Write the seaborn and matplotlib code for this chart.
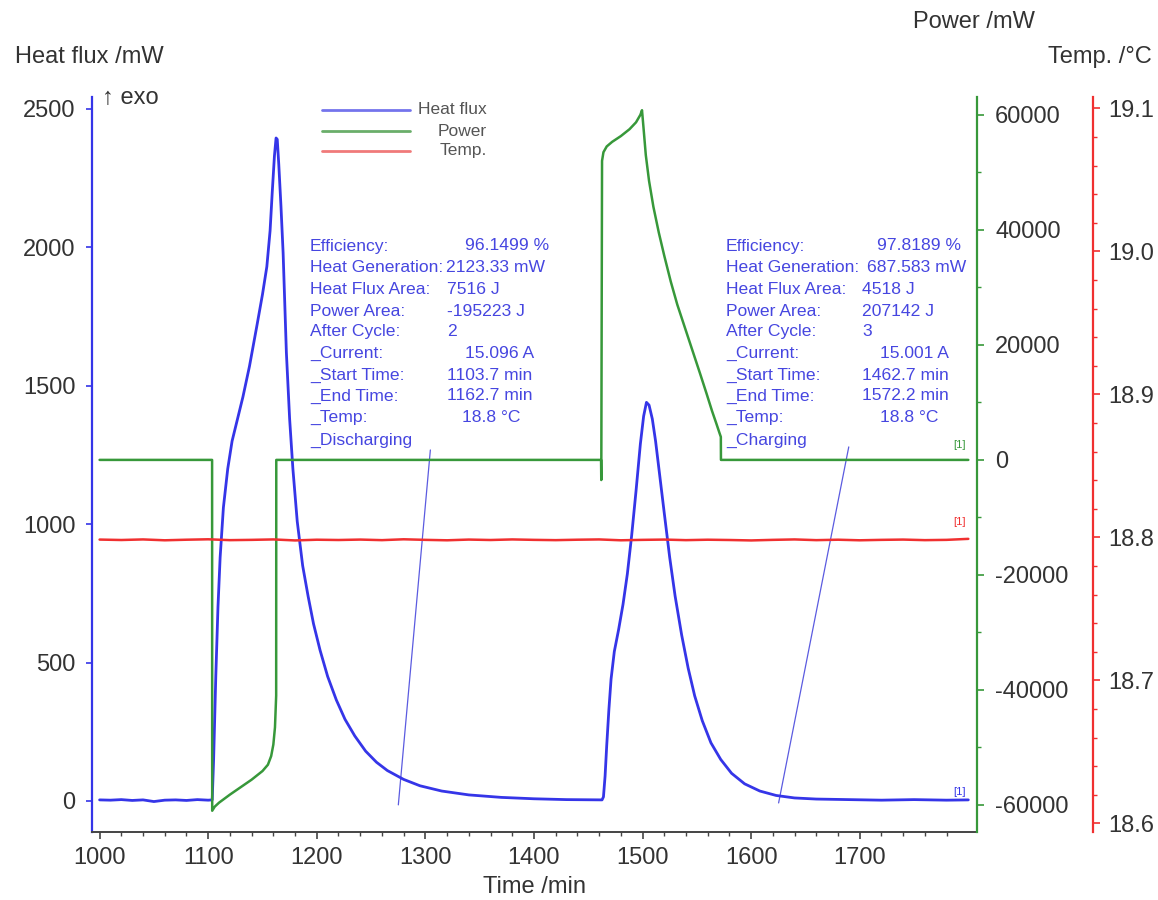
import matplotlib
matplotlib.use("Agg")
import matplotlib.pyplot as plt
import seaborn as sns
import pandas as pd
from matplotlib.ticker import FixedLocator, MultipleLocator, FormatStrFormatter
from matplotlib.lines import Line2D

# ---------------- data ----------------
hf_time = [1000, 1010, 1020, 1030, 1040, 1050, 1060, 1070, 1080, 1090, 1100, 1103.7,
           1105, 1107, 1109, 1111, 1114, 1118, 1122, 1127, 1132, 1138, 1145, 1150, 1154,
           1157, 1159, 1161, 1162.5, 1163.6, 1165, 1167, 1169, 1172, 1175, 1178, 1182,
           1187, 1192, 1197, 1203, 1210, 1218, 1226, 1235, 1245, 1255, 1265, 1280, 1295,
           1315, 1340, 1370, 1400, 1430,
           1462.7, 1464, 1465.5, 1467, 1469, 1471, 1474, 1478, 1482, 1486, 1490, 1494,
           1498, 1501, 1503.6, 1506, 1509, 1512, 1516, 1520, 1525, 1530, 1536, 1542,
           1548, 1555, 1563, 1572, 1582, 1594, 1608, 1623, 1640, 1660, 1690,
           1720, 1750, 1780, 1800]
hf_value = [4, 3, 5, 2, 4, -2, 3, 4, 2, 5, 3, 4,
            150, 450, 700, 880, 1060, 1200, 1300, 1380, 1460, 1570, 1720, 1830, 1930,
            2060, 2200, 2330, 2395, 2390, 2300, 2150, 1980, 1620, 1380, 1200, 1010,
            850, 740, 640, 545, 450, 365, 295, 235, 180, 140, 110, 78, 55,
            36, 22, 13, 8, 5,
            4, 15, 90, 200, 330, 440, 540, 620, 710, 820, 960, 1120,
            1290, 1390, 1440, 1430, 1380, 1300, 1170, 1040, 880, 740, 600, 480,
            380, 290, 210, 150, 100, 62, 36, 20, 11, 7, 5,
            3, 5, 3, 4]

pw_time = [1000, 1103.6, 1103.7, 1106, 1110, 1120, 1130, 1140, 1150, 1155, 1158, 1160,
           1161.5, 1162.6, 1162.7, 1250, 1350, 1461.8, 1462.0, 1462.7, 1464, 1467, 1472,
           1480, 1488, 1494, 1498, 1499.5, 1501, 1503, 1506, 1510, 1515, 1520, 1526,
           1532, 1539, 1546, 1553, 1559, 1564, 1568, 1571, 1572.1, 1572.2, 1650, 1750,
           1800]
pw_value = [0, 0, -61000, -60300, -59600, -58200, -56900, -55600, -54100, -53000, -51500,
            -49500, -46500, -41000, 0, 0, 0, 0, -3500, 52000, 53500, 54500, 55300,
            56300, 57500, 58700, 60000, 60800, 57500, 53000, 48500, 44000, 39500, 35500,
            31000, 27000, 23000, 19000, 15000, 11500, 8500, 6300, 4600, 4000, 0, 0, 0, 0]

temp_time = list(range(1000, 1801, 20))
temp_value = [18.7985, 18.7982, 18.7986, 18.7980, 18.7984, 18.7987, 18.7981, 18.7983,
              18.7986, 18.7979, 18.7984, 18.7982, 18.7985, 18.7981, 18.7987, 18.7983,
              18.7980, 18.7985, 18.7982, 18.7986, 18.7983, 18.7981, 18.7984, 18.7986,
              18.7980, 18.7983, 18.7985, 18.7981, 18.7984, 18.7982, 18.7979, 18.7983,
              18.7986, 18.7981, 18.7984, 18.7980, 18.7983, 18.7985, 18.7981, 18.7983,
              18.7990]

# annotation leader lines (time, heat flux)
lead1_time = [1304.6, 1275.1]
lead1_hf = [1268, -14]
lead2_time = [1689.9, 1625.3]
lead2_hf = [1279, -7]

x_ticks = [1000, 1100, 1200, 1300, 1400, 1500, 1600, 1700]
hf_ticks = [0, 500, 1000, 1500, 2000, 2500]
pw_ticks = [-60000, -40000, -20000, 0, 20000, 40000, 60000]
temp_ticks = [18.6, 18.7, 18.8, 18.9, 19.0, 19.1]

box1_labels = ["Efficiency:", "Heat Generation:", "Heat Flux Area:", "Power Area:",
               "After Cycle:", "_Current:", "_Start Time:", "_End Time:", "_Temp:",
               "_Discharging"]
box1_values = ["96.1499 %", "2123.33 mW", "7516 J", "-195223 J", "2", "15.096 A",
               "1103.7 min", "1162.7 min", "18.8 °C"]
box2_labels = ["Efficiency:", "Heat Generation:", "Heat Flux Area:", "Power Area:",
               "After Cycle:", "_Current:", "_Start Time:", "_End Time:", "_Temp:",
               "_Charging"]
box2_values = ["97.8189 %", "687.583 mW", "4518 J", "207142 J", "3", "15.001 A",
               "1462.7 min", "1572.2 min", "18.8 °C"]
legend_labels = ["Heat flux", "Power", "Temp."]

# ---------------- style ----------------
sns.set_theme(style="white")
plt.rcParams['font.family'] = ['Liberation Sans', 'DejaVu Sans']
plt.rcParams['axes.unicode_minus'] = False

BLUE = '#3535e8'
GREEN = '#37983a'
RED = '#f03030'
TXT = '#333333'
ANN = '#4646e0'

W, H = 1158, 900
def px(x, y):
    return x / W, 1 - y / H

fig = plt.figure(figsize=(W / 100, H / 100), dpi=100)
L, R, B, T = 92, 977, 832, 97
ax = fig.add_axes([L / W, 1 - B / H, (R - L) / W, (B - T) / H])
ax2 = ax.twinx()
ax3 = ax.twinx()
ax3.spines['right'].set_position(('axes', (1093 - L) / (R - L)))

hf_df = pd.DataFrame({"time": hf_time, "hf": hf_value})
pw_df = pd.DataFrame({"time": pw_time, "pw": pw_value})
tp_df = pd.DataFrame({"time": temp_time, "temp": temp_value})

sns.lineplot(data=hf_df, x="time", y="hf", ax=ax, color=BLUE, lw=2.0,
             estimator=None, sort=False, zorder=3)
sns.lineplot(x=lead1_time, y=lead1_hf, ax=ax, color='#5b5be0', lw=0.9,
             estimator=None, sort=False)
sns.lineplot(x=lead2_time, y=lead2_hf, ax=ax, color='#5b5be0', lw=0.9,
             estimator=None, sort=False)
sns.lineplot(data=pw_df, x="time", y="pw", ax=ax2, color=GREEN, lw=1.8,
             estimator=None, sort=False)
sns.lineplot(data=tp_df, x="time", y="temp", ax=ax3, color=RED, lw=1.8,
             estimator=None, sort=False)

# limits
ax.set_xlim(993, 1808)
ax.set_ylim(-112, 2543)
ax2.set_ylim(-64700, 63100)
ax3.set_ylim(18.594, 19.108)

# spines
for a in (ax, ax2, ax3):
    for s in a.spines.values():
        s.set_visible(False)
ax.spines['left'].set_visible(True)
ax.spines['left'].set_color(BLUE)
ax.spines['left'].set_linewidth(1.6)
ax.spines['bottom'].set_visible(True)
ax.spines['bottom'].set_color('#444444')
ax.spines['bottom'].set_linewidth(1.4)
ax2.spines['right'].set_visible(True)
ax2.spines['right'].set_color(GREEN)
ax2.spines['right'].set_linewidth(1.6)
ax3.spines['right'].set_visible(True)
ax3.spines['right'].set_color(RED)
ax3.spines['right'].set_linewidth(1.6)

# ticks
ax.set_xticks(x_ticks)
ax.xaxis.set_minor_locator(FixedLocator([t for t in range(1000, 1801, 20) if t % 100]))
ax.set_yticks(hf_ticks)
ax2.set_yticks(pw_ticks)
ax2.yaxis.set_minor_locator(MultipleLocator(10000))
ax3.set_yticks(temp_ticks)
ax3.yaxis.set_minor_locator(MultipleLocator(0.02))
ax3.yaxis.set_major_formatter(FormatStrFormatter('%.1f'))

FS = 17
ax.tick_params(axis='x', which='both', direction='out', color='#444444', labelcolor=TXT,
               labelsize=FS, bottom=True)
ax.tick_params(axis='x', which='major', length=5, width=1.2, pad=6)
ax.tick_params(axis='x', which='minor', length=3, width=1.0)
ax.tick_params(axis='y', which='major', direction='out', left=True, length=4, width=1.2,
               color=BLUE, labelcolor=TXT, labelsize=FS, pad=8)
ax2.tick_params(axis='y', which='both', direction='out', right=True, color=GREEN,
                labelcolor=TXT, labelsize=FS, pad=8)
ax2.tick_params(axis='y', which='major', length=5, width=1.2)
ax2.tick_params(axis='y', which='minor', length=3, width=1.0)
ax3.tick_params(axis='y', which='both', direction='out', right=True, color=RED,
                labelcolor=TXT, labelsize=FS, pad=6)
ax3.tick_params(axis='y', which='major', length=5, width=1.2)
ax3.tick_params(axis='y', which='minor', length=3, width=1.0)

ax.set_xlabel("Time /min", fontsize=FS, color=TXT, labelpad=5)
ax.set_ylabel("")
ax2.set_ylabel("")
ax3.set_ylabel("")

# axis titles
fig.text(*px(15, 57), "Heat flux /mW", fontsize=FS, color=TXT, ha='left', va='center')
fig.text(*px(913, 22), "Power /mW", fontsize=FS, color=TXT, ha='left', va='center')
fig.text(*px(1152, 57), "Temp. /°C", fontsize=FS, color=TXT, ha='right', va='center')
fig.text(*px(102, 98), "↑ exo", fontsize=FS, color=TXT, ha='left', va='center')

# legend (drawn manually)
leg_colors = ['#7474ec', '#6aae6a', '#f07a7a']
leg_y = [110, 131, 151]
leg_text_right = [487, 487, 487]
for lab, c, yy, xr in zip(legend_labels, leg_colors, leg_y, leg_text_right):
    x0, y0 = px(322, yy)
    x1, _ = px(410, yy)
    fig.add_artist(Line2D([x0, x1], [y0, y0], color=c, lw=2.0, transform=fig.transFigure))
    fig.text(*px(xr, yy), lab, fontsize=12.5, color='#555555', ha='right', va='center')

# annotation boxes
line_y = [246, 268, 290, 311, 332, 353, 375, 396, 417, 440]
box1_vx = [465, 446, 447, 447, 447, 465, 447, 447, 462]
box2_vx = [877, 867, 862, 862, 862, 880, 862, 862, 880]
AFS = 12.6
for i, lab in enumerate(box1_labels):
    fig.text(*px(310, line_y[i]), lab, fontsize=AFS, color=ANN, ha='left', va='center')
for i, val in enumerate(box1_values):
    fig.text(*px(box1_vx[i], line_y[i]), val, fontsize=AFS, color=ANN, ha='left', va='center')
for i, lab in enumerate(box2_labels):
    fig.text(*px(726, line_y[i]), lab, fontsize=AFS, color=ANN, ha='left', va='center')
for i, val in enumerate(box2_values):
    fig.text(*px(box2_vx[i], line_y[i]), val, fontsize=AFS, color=ANN, ha='left', va='center')

# curve markers
fig.text(*px(960, 445), "[1]", fontsize=8, color=GREEN, ha='center', va='center')
fig.text(*px(960, 522), "[1]", fontsize=8, color=RED, ha='center', va='center')
fig.text(*px(960, 792), "[1]", fontsize=8, color=BLUE, ha='center', va='center')

fig.savefig("out.png", dpi=100)
